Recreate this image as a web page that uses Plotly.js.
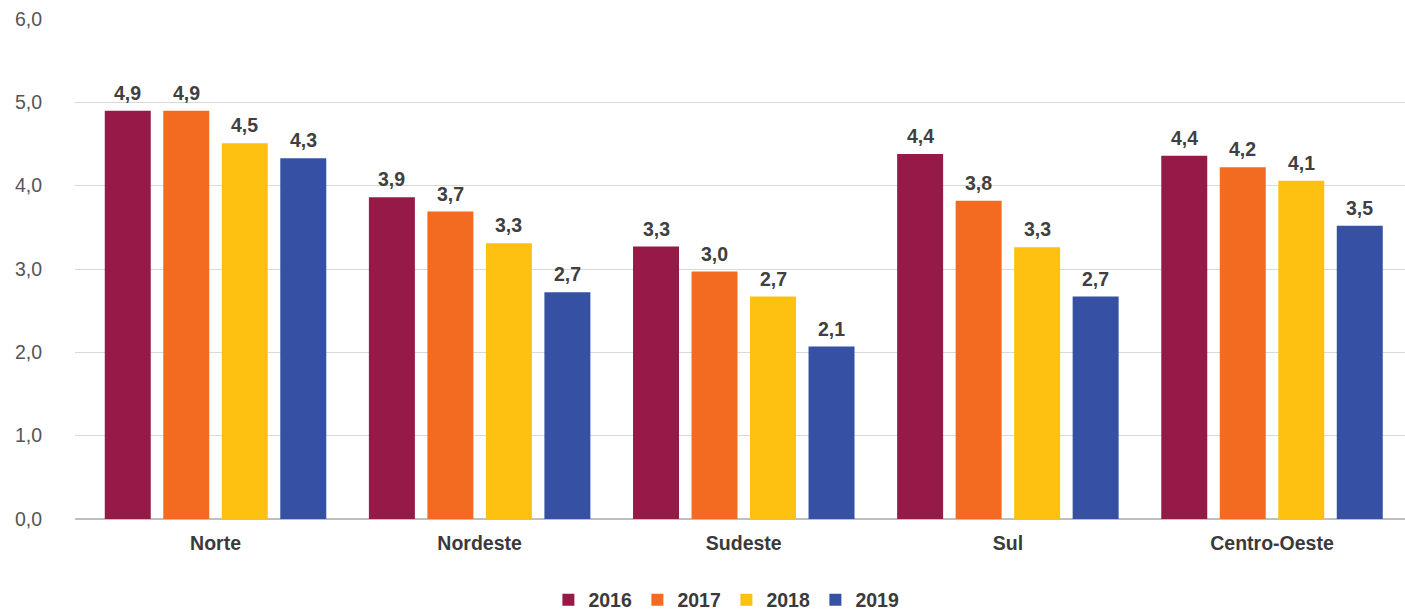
<!DOCTYPE html>
<html>
<head>
<meta charset="utf-8">
<script src="https://cdn.plot.ly/plotly-3.0.1.min.js"></script>
<style>html,body{margin:0;padding:0;background:#fff;}#chart{width:1405px;height:612px;}</style>
</head>
<body>
<div id="chart"></div>
<script>
const regions = ["Norte", "Nordeste", "Sudeste", "Sul", "Centro-Oeste"];
const years = ["2016", "2017", "2018", "2019"];
const v2016 = [4.90, 3.86, 3.27, 4.38, 4.36];
const v2017 = [4.90, 3.69, 2.97, 3.82, 4.22];
const v2018 = [4.51, 3.31, 2.67, 3.26, 4.06];
const v2019 = [4.33, 2.72, 2.07, 2.67, 3.52];
const colors = ["#961a48", "#f26b21", "#fec111", "#3651a3"];
const series = [v2016, v2017, v2018, v2019];

const FONT = "'Liberation Sans', Arial, Helvetica, sans-serif";
const FS = 19.5;
const BARGAP = 0.114;
const BARGROUPGAP = 0.214;

const traces = series.map((vals, i) => ({
  type: "bar",
  name: years[i],
  x: regions,
  y: vals,
  marker: { color: colors[i] },
  hoverinfo: "skip"
}));

// value labels above each bar, placed via the axes' own scales
const slot = (1 - BARGAP) / series.length;
const annotations = [];
series.forEach((vals, j) => {
  vals.forEach((v, i) => {
    annotations.push({
      xref: "x", yref: "y",
      x: i + (j - (series.length - 1) / 2) * slot,
      y: v,
      text: v.toFixed(1).replace(".", ","),
      showarrow: false,
      xanchor: "center",
      yanchor: "bottom",
      yshift: 5,
      font: { family: FONT, size: FS, color: "#404040", weight: 700 }
    });
  });
});

const layout = {
  width: 1405,
  height: 612,
  margin: { l: 75, r: 0, t: 19, b: 93 },
  paper_bgcolor: "#ffffff",
  plot_bgcolor: "#ffffff",
  separators: ",.",
  barmode: "group",
  bargap: BARGAP,
  bargroupgap: BARGROUPGAP,
  font: { family: FONT, size: FS, color: "#555555" },
  annotations: annotations,
  xaxis: {
    type: "category",
    range: [-0.532, 4.5035],
    showgrid: false,
    showline: false,
    zeroline: false,
    ticks: "",
    automargin: false,
    ticklabelstandoff: 10,
    tickfont: { family: FONT, size: FS, color: "#3a3a3a", weight: 700 },
    fixedrange: true
  },
  yaxis: {
    range: [0, 6],
    dtick: 1,
    tickformat: ".1f",
    showgrid: true,
    gridcolor: "#d9d9d9",
    gridwidth: 1,
    zeroline: true,
    zerolinecolor: "#bfbfbf",
    zerolinewidth: 1.5,
    showline: false,
    ticks: "",
    automargin: false,
    ticklabelstandoff: 32,
    tickfont: { family: FONT, size: FS, color: "#555555" },
    fixedrange: true
  },
  showlegend: true,
  legend: {
    orientation: "h",
    xref: "container",
    yref: "container",
    x: 0.517,
    xanchor: "center",
    y: 0.0196,
    yanchor: "middle",
    entrywidth: 44,
    font: { family: FONT, size: FS, color: "#3a3a3a", weight: 700 },
    itemclick: false,
    itemdoubleclick: false
  }
};

Plotly.newPlot("chart", traces, layout, { displayModeBar: false, staticPlot: true });
</script>
</body>
</html>
